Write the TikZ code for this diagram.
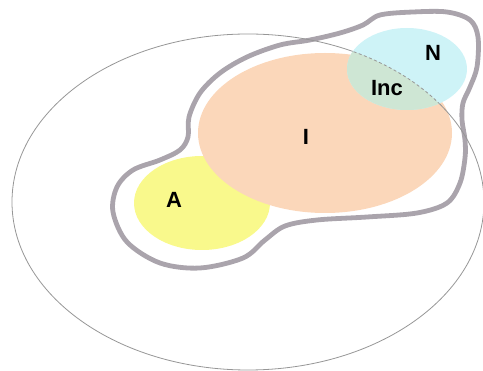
\documentclass[tikz,border=0pt]{standalone}
\usepackage{fontspec}
\setmainfont{Liberation Sans}
\definecolor{peach}{RGB}{251,215,186}
\definecolor{lemon}{RGB}{249,249,140}
\definecolor{aqua}{RGB}{206,243,247}
\definecolor{sage}{RGB}{206,230,212}
\definecolor{rim}{RGB}{170,164,172}
\definecolor{thinline}{RGB}{150,150,150}
\begin{document}
\begin{tikzpicture}[x=1pt,y=-1pt,
  lbl/.style={font=\fontsize{22}{22}\selectfont\bfseries, inner sep=0pt},
  outerline/.style={draw=thinline, line width=0.8pt},
  universe/.style={x radius=236pt, y radius=168pt}]
\useasboundingbox (0,0) rectangle (483,371);
\clip (0,0) rectangle (483,371);

% the two main regions
\fill[lemon] (202,203) ellipse [x radius=68pt, y radius=47pt];
\fill[peach] (325,133) ellipse [x radius=127pt, y radius=80pt];

% grey rim round the grouped regions
\draw[rim, line width=4.8pt, line join=round] plot[smooth cycle, tension=0.55] coordinates {
  (380,15) (413,12) (447,12) (470,20) (478,37) (477,67) (470,87) (463,103)
  (462,120) (465,140) (465,158) (460,183) (447,203) (417,213) (367,217)
  (317,220) (285,226) (265,240) (243,258) (200,268) (160,263) (127,242)
  (113,212) (117,187) (133,170) (160,160) (180,150) (188,137) (189,117)
  (200,93) (220,73) (247,57) (280,45) (310,40) (340,33) (363,25)};

% thin outer boundary
\draw[outerline] (248,202) ellipse [universe];

% N and its overlap with the outer set
\fill[aqua] (407,69) ellipse [x radius=60pt, y radius=41pt];
\begin{scope}
  \clip (407,69) ellipse [x radius=60pt, y radius=41pt];
  \fill[sage] (248,202) ellipse [universe];
  \draw[outerline, dash pattern=on 3pt off 2.5pt] (248,202) ellipse [universe];
\end{scope}

% labels
\node[lbl] (n) at (433,53) {N};
\node[lbl] (inc) at (387,88) {Inc};
\node[lbl] (i) at (306,137) {I};
\node[lbl] (a) at (174,200) {A};
\end{tikzpicture}
\end{document}
